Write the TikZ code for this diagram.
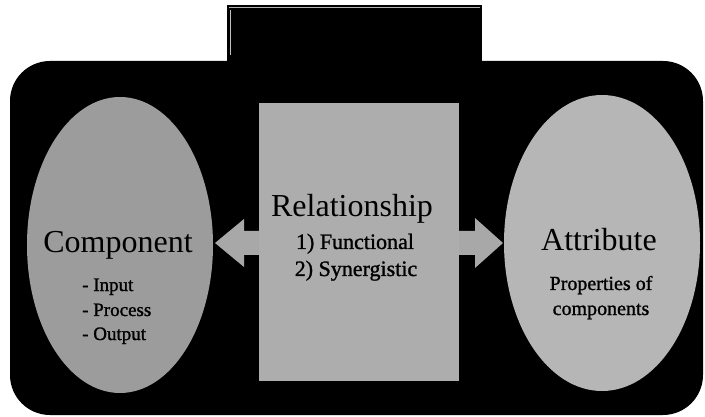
\documentclass[tikz,border=0pt]{standalone}
\usepackage{fontspec}
\setmainfont{Liberation Serif}
\newfontfamily\heavyserif[FakeBold=1.2]{Liberation Serif}
\usetikzlibrary{shapes.geometric}
\definecolor{leftgray}{HTML}{9C9C9C}
\definecolor{rightgray}{HTML}{B6B6B6}
\definecolor{midgray}{HTML}{ADADAD}
\definecolor{arrowgray}{HTML}{A8A8A8}
\tikzset{
  bigtitle/.style={anchor=base, inner sep=0pt, font=\fontsize{32}{32}\selectfont},
  subtext/.style={anchor=base, inner sep=0pt, font=\heavyserif\fontsize{22}{22}\selectfont},
  smalltext/.style={anchor=base west, inner sep=0pt, font=\heavyserif\fontsize{19}{19}\selectfont},
  oval/.style={ellipse, inner sep=0pt, draw=none}
}
\begin{document}
\begin{tikzpicture}[x=1pt,y=-1pt]
\useasboundingbox (0,0) rectangle (705,417);
\fill[white] (0,0) rectangle (705,417);
% black backdrop: tab on top and rounded frame
\fill[black] (227,5) rectangle (482,70);
\fill[black, rounded corners=40pt] (10,61) rectangle (703,415);
\draw[gray!60, line width=0.8pt] (229,7.5) -- (480,7.5);
\draw[gray!50, line width=0.8pt] (230,10) -- (230,55);
% ellipses
\node[oval, fill=leftgray, minimum width=186pt, minimum height=296pt] (comp) at (120,245) {};
\node[oval, fill=rightgray, minimum width=196pt, minimum height=296pt] (attr) at (602,243) {};
% double arrow
\coordinate (ltip) at (215,243);
\coordinate (rtip) at (503,243);
\fill[arrowgray] (ltip) -- (244,219) -- (244,231) -- (475,231) -- (475,218) -- (rtip)
  -- (475,268) -- (475,255) -- (244,255) -- (244,267) -- cycle;
% central box
\node[rectangle, fill=midgray, inner sep=0pt, minimum width=200pt, minimum height=278pt] (rel) at (359,242) {};
% texts
\node[bigtitle] (tcomp) at (118,252) {Component};
\node[smalltext] (tin) at (82,291) {- Input};
\node[smalltext] (tproc) at (82,316) {- Process};
\node[smalltext] (tout) at (82,340) {- Output};
\node[bigtitle] (trel) at (352,217) {Relationship};
\node[subtext] (tfun) at (355,249) {1) Functional};
\node[subtext] (tsyn) at (356,276) {2) Synergistic};
\node[bigtitle] (tattr) at (599,251) {Attribute};
\node[subtext, font=\heavyserif\fontsize{20}{20}\selectfont] (tprop) at (601,290) {Properties of};
\node[subtext, font=\heavyserif\fontsize{20}{20}\selectfont] (tcomps) at (601,315) {components};
\end{tikzpicture}
\end{document}
